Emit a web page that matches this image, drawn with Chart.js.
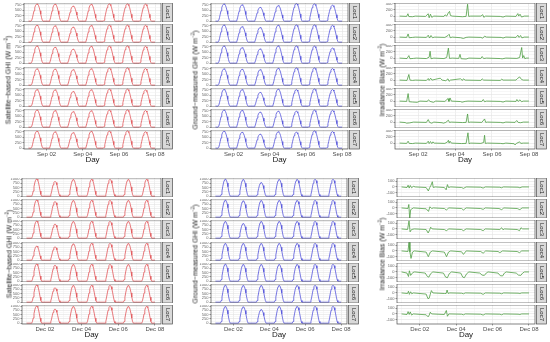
<!DOCTYPE html>
<html>
<head>
<meta charset="utf-8">
<script src="https://cdn.jsdelivr.net/npm/chart.js@4.4.1/dist/chart.umd.min.js"></script>
<style>
body { margin: 0; background: #fff; width: 550px; height: 342px; position: relative; overflow: hidden; font-family: "Liberation Sans", Arial, sans-serif; }
canvas { position: absolute; }
.ttl { position: absolute; font-size: 8px; color: #1a1a1a; white-space: nowrap; transform: translate(-50%, -50%); line-height: 1; }
.rot { font-size: 7px; transform: translate(-50%, -50%) rotate(-90deg); }
sup { font-size: 4.5px; vertical-align: 3px; }
</style>
</head>
<body>
<script>
const locs = ['Loc1', 'Loc2', 'Loc3', 'Loc4', 'Loc5', 'Loc6', 'Loc7'];
const tickDays = [1, 3, 5, 7];
const sepLabels = ['Sep 02', 'Sep 04', 'Sep 06', 'Sep 08'];
const decLabels = ['Dec 02', 'Dec 04', 'Dec 06', 'Dec 08'];

// clear-day shape (hours from solar noon, share of the day's peak)
const sepHours = [-8, -7, -6, -5, -4, -3, -2, -1, 0, 1, 2, 3, 4, 5, 6, 7, 8];
const sepFrac  = [0, 0.05, 0.2, 0.4, 0.6, 0.78, 0.9, 0.97, 1, 0.97, 0.9, 0.78, 0.6, 0.4, 0.2, 0.05, 0];
const decHours = [-6.5, -5.5, -4.5, -3.5, -2.5, -1.5, -0.5, 0.5, 1.5, 2.5, 3.5, 4.5, 5.5, 6.5];
const decFrac  = [0, 0.1, 0.3, 0.55, 0.77, 0.92, 0.99, 0.99, 0.92, 0.77, 0.55, 0.3, 0.1, 0];

// daily peaks, one row per location
const satSep = [
  [800, 790, 700, 780, 800, 800, 790],
  [790, 760, 700, 770, 790, 790, 780],
  [800, 740, 650, 780, 790, 800, 780],
  [760, 750, 720, 760, 790, 800, 770],
  [770, 760, 680, 760, 790, 790, 750],
  [800, 770, 720, 760, 790, 800, 770],
  [790, 760, 720, 780, 790, 800, 760]
];
const gndSep = [
  [800, 760, 640, 720, 820, 800, 740],
  [800, 720, 680, 790, 800, 800, 780],
  [800, 720, 660, 800, 800, 790, 700],
  [760, 740, 720, 780, 800, 800, 770],
  [780, 770, 640, 790, 770, 800, 770],
  [800, 780, 700, 740, 740, 790, 780],
  [790, 740, 650, 760, 740, 800, 770]
];
const satDec = [
  [1000, 860, 980, 980, 980, 980, 980],
  [1000, 910, 980, 980, 980, 980, 980],
  [1000, 820, 980, 980, 980, 980, 980],
  [820, 780, 960, 980, 980, 980, 980],
  [1000, 930, 980, 980, 980, 980, 980],
  [1000, 840, 980, 980, 980, 980, 980],
  [1000, 820, 980, 980, 980, 980, 980]
];
const gndDec = [
  [1000, 980, 800, 980, 980, 980, 980],
  [1000, 960, 980, 980, 980, 980, 980],
  [980, 860, 980, 980, 980, 980, 980],
  [980, 980, 980, 980, 980, 980, 980],
  [1000, 980, 980, 980, 980, 980, 980],
  [1000, 980, 980, 980, 980, 980, 980],
  [980, 960, 800, 980, 980, 980, 980]
];

// bias traces as [day, W m-2] points
const biasSep = [
  [[0,0],[0.38,-10],[0.45,75],[0.5,-15],[0.7,-20],[0.85,0],[1.4,-10],[1.55,75],[1.6,-55],[1.67,60],[1.74,-40],[1.85,0],[2.4,-10],[2.46,40],[2.55,0],[2.64,110],[2.7,150],[2.75,20],[2.85,0],[3.4,-20],[3.6,-10],[3.68,380],[3.74,-10],[3.85,0],[4.4,0],[4.5,45],[4.56,-40],[4.65,0],[5.45,-10],[5.6,-30],[5.75,0],[6.3,-10],[6.4,80],[6.45,0],[6.52,60],[6.6,-30],[6.75,0],[7,0]],
  [[0,0],[0.38,-10],[0.46,100],[0.52,-20],[0.7,-10],[0.85,0],[1.45,-10],[1.55,60],[1.62,-30],[1.7,50],[1.78,-20],[1.9,0],[2.45,-10],[2.62,50],[2.68,90],[2.74,-20],[2.85,0],[3.3,-20],[3.45,-45],[3.6,-10],[3.75,0],[4.4,-10],[4.5,-35],[4.6,30],[4.7,0],[5.5,-10],[5.6,-30],[5.75,0],[6.3,-10],[6.4,60],[6.47,-10],[6.55,50],[6.62,-25],[6.75,0],[7,0]],
  [[0,0],[0.4,-15],[0.5,80],[0.56,-20],[0.75,-10],[0.9,0],[1.45,-15],[1.6,30],[1.65,220],[1.7,-20],[1.85,0],[2.4,-15],[2.55,20],[2.64,320],[2.7,-10],[2.85,0],[3.2,-10],[3.27,120],[3.33,-20],[3.6,-30],[3.75,0],[4.4,-10],[4.47,50],[4.55,-15],[4.7,0],[5.45,-15],[5.55,-25],[5.75,0],[6.35,-10],[6.5,20],[6.61,340],[6.66,0],[6.72,80],[6.78,-20],[6.85,0],[7,0]],
  [[0,0],[0.4,-10],[0.5,180],[0.56,0],[0.7,-10],[0.85,0],[1.45,-10],[1.55,50],[1.6,-10],[1.68,60],[1.75,0],[2.2,60],[2.3,0],[2.5,-20],[2.62,40],[2.68,-40],[2.75,0],[3.3,40],[3.4,-10],[3.45,40],[3.55,0],[4.4,-10],[4.47,40],[4.55,0],[5.45,-10],[5.53,30],[5.6,0],[6.3,0],[6.4,60],[6.5,100],[6.6,20],[6.7,0],[7,0]],
  [[0,0],[0.38,-10],[0.46,240],[0.52,-20],[0.7,-30],[0.95,-40],[1.1,0],[1.5,-10],[1.56,40],[1.65,-10],[1.83,-40],[1.95,0],[2.45,-10],[2.62,80],[2.67,-10],[2.73,100],[2.8,0],[3.3,-15],[3.38,-35],[3.55,-10],[3.7,0],[4.45,-10],[4.53,50],[4.6,-20],[4.7,0],[5.45,-10],[5.6,-30],[5.75,0],[6.3,-10],[6.35,50],[6.42,-10],[6.52,40],[6.6,-20],[6.7,0],[7,0]],
  [[0,0],[0.3,-15],[0.38,-35],[0.55,-25],[0.75,0],[1.45,-10],[1.55,80],[1.62,-10],[1.74,-35],[1.85,0],[2.3,-20],[2.37,-35],[2.5,-10],[2.64,60],[2.7,-10],[2.8,0],[3.4,-15],[3.6,-10],[3.68,260],[3.73,-10],[3.85,0],[4.45,-10],[4.6,100],[4.66,-10],[4.75,0],[5.45,-10],[5.6,-25],[5.75,0],[6.25,-10],[6.34,50],[6.42,-10],[6.55,-20],[6.7,0],[7,0]],
  [[0,0],[0.38,-10],[0.46,60],[0.52,-10],[0.7,-15],[0.85,0],[1.45,-10],[1.55,60],[1.6,-15],[1.67,50],[1.74,-15],[1.8,40],[1.87,0],[2.45,-10],[2.6,40],[2.64,90],[2.68,0],[2.73,60],[2.8,0],[3.35,-15],[3.6,-10],[3.7,330],[3.76,-20],[3.85,0],[4.4,-10],[4.55,20],[4.6,250],[4.64,-10],[4.75,0],[5.45,-10],[5.6,-20],[5.75,0],[6.2,-20],[6.25,-60],[6.32,-10],[6.5,40],[6.56,-10],[6.7,0],[7,0]]
];
const biasDec = [
  [[0,0],[0.3,-10],[0.36,30],[0.42,-20],[0.48,25],[0.55,-15],[0.65,10],[0.75,0],[1.35,-10],[1.47,-70],[1.55,-10],[1.62,30],[1.69,90],[1.74,-10],[1.85,0],[2.35,-10],[2.45,-50],[2.52,40],[2.58,-10],[2.7,0],[3.3,-10],[3.4,-25],[3.55,0],[4.35,-5],[4.48,-20],[4.6,0],[5.4,-5],[5.48,-15],[5.6,0],[6.4,-5],[6.5,-15],[6.62,0],[7,0]],
  [[0,0],[0.35,-10],[0.4,60],[0.45,-200],[0.5,-30],[0.65,0],[1.35,-15],[1.48,-60],[1.56,20],[1.65,-10],[1.75,0],[2.35,-10],[2.46,-35],[2.6,0],[3.3,-10],[3.4,-35],[3.55,0],[4.35,-10],[4.48,-25],[4.6,0],[5.35,-10],[5.5,-30],[5.62,0],[6.35,-10],[6.5,-30],[6.62,0],[7,0]],
  [[0,0],[0.33,-10],[0.41,140],[0.47,-50],[0.55,-10],[0.7,0],[1.35,-10],[1.46,-70],[1.54,-20],[1.6,30],[1.68,0],[2.35,-10],[2.46,-30],[2.6,0],[3.3,-10],[3.4,-30],[3.55,0],[4.35,-10],[4.48,-30],[4.6,0],[5.4,-10],[5.5,20],[5.57,-15],[5.65,0],[6.35,-10],[6.48,-30],[6.56,20],[6.65,0],[7,0]],
  [[0,0],[0.35,-10],[0.41,150],[0.46,-20],[0.52,-130],[0.6,-20],[0.7,0],[1.35,-20],[1.47,-100],[1.58,-20],[1.7,0],[2.35,-20],[2.47,-100],[2.58,-20],[2.7,0],[3.3,-15],[3.4,-60],[3.55,0],[4.35,-10],[4.48,-40],[4.62,0],[5.3,-10],[5.4,-30],[5.55,0],[6.35,-10],[6.48,-30],[6.6,0],[7,0]],
  [[0,0],[0.3,-20],[0.38,-80],[0.43,20],[0.5,-60],[0.62,-10],[0.72,0],[1.3,-20],[1.42,-80],[1.5,-90],[1.6,-30],[1.72,0],[2.3,-20],[2.42,-90],[2.52,-100],[2.62,-30],[2.75,0],[3.25,-20],[3.36,-90],[3.45,-100],[3.58,-30],[3.7,0],[4.3,-20],[4.42,-55],[4.55,-60],[4.65,-20],[4.75,0],[5.3,-20],[5.42,-65],[5.55,-70],[5.65,-20],[5.75,0],[6.3,-20],[6.42,-55],[6.55,-60],[6.65,-20],[6.75,0],[7,0]],
  [[0,0],[0.33,-10],[0.38,30],[0.43,-25],[0.5,20],[0.56,-15],[0.65,0],[1.35,-20],[1.45,-100],[1.52,-90],[1.58,-20],[1.64,40],[1.72,0],[2.35,-10],[2.45,-10],[2.5,50],[2.56,-10],[2.65,0],[3.3,-5],[3.4,-15],[3.5,0],[4.35,-5],[4.48,-25],[4.6,0],[5.4,-5],[5.5,-15],[5.6,0],[6.4,-5],[6.5,-10],[6.6,0],[7,0]],
  [[0,0],[0.3,-10],[0.36,40],[0.42,-10],[0.48,35],[0.55,-20],[0.65,0],[1.35,-15],[1.46,-50],[1.52,-20],[1.58,30],[1.65,0],[2.35,-10],[2.46,60],[2.52,-40],[2.6,0],[3.3,-5],[3.4,-15],[3.5,0],[4.35,-5],[4.48,-20],[4.6,0],[5.4,-5],[5.5,-15],[5.6,0],[6.4,-5],[6.5,-10],[6.6,0],[7,0]]
];

function bells(peaks, noon, hours, frac) {
  const pts = [{x: 0, y: 0}];
  peaks.forEach((p, k) => {
    hours.forEach((h, i) => pts.push({x: k + noon + h / 24, y: frac[i] * p}));
  });
  pts.push({x: 7, y: 0});
  return pts;
}
const asPts = arr => arr.map(p => ({x: p[0], y: p[1]}));

const ghiTitleSat = 'Satellite−based GHI (W m<sup>−2</sup>)';
const ghiTitleGnd = 'Ground−measured GHI (W m<sup>−2</sup>)';
const biasTitle = 'Irradiance Bias (W m<sup>−2</sup>)';

const panels = [
  {top: 3, left: 24, right: 161, series: satSep.map(p => bells(p, 0.47, sepHours, sepFrac)), color: '#e2575b',
   y: [-40, 840], major: [0, 250, 500, 750], minor: [125, 375, 625], labels: sepLabels, title: ghiTitleSat, tx: 8, ty: 80},
  {top: 3, left: 211, right: 348, series: gndSep.map(p => bells(p, 0.47, sepHours, sepFrac)), color: '#5454dc',
   y: [-40, 840], major: [0, 250, 500, 750], minor: [125, 375, 625], labels: sepLabels, title: ghiTitleGnd, tx: 195, ty: 80},
  {top: 3, left: 395, right: 535, series: biasSep.map(asPts), color: '#4f9e44',
   y: [-190, 420], major: [0, 200, 400], minor: [-100, 100, 300], labels: sepLabels, title: biasTitle, tx: 382, ty: 80},
  {top: 178, left: 22, right: 161, series: satDec.map(p => bells(p, 0.55, decHours, decFrac)), color: '#e2575b',
   y: [-50, 1060], major: [0, 250, 500, 750, 1000], minor: [125, 375, 625, 875], labels: decLabels, title: ghiTitleSat, tx: 9, ty: 254},
  {top: 178, left: 211, right: 347, series: gndDec.map(p => bells(p, 0.55, decHours, decFrac)), color: '#5454dc',
   y: [-50, 1060], major: [0, 250, 500, 750, 1000], minor: [125, 375, 625, 875], labels: decLabels, title: ghiTitleGnd, tx: 195, ty: 254},
  {top: 178, left: 397, right: 535, series: biasDec.map(asPts), color: '#4f9e44',
   y: [-175, 155], major: [-100, 0, 100], minor: [-50, 50], labels: decLabels, title: biasTitle, tx: 382, ty: 254}
];

const stripPlugin = {
  id: 'strip',
  afterDraw(chart, args, opts) {
    const ca = chart.chartArea, ctx = chart.ctx;
    ctx.save();
    ctx.strokeStyle = '#4d4d4d';
    ctx.lineWidth = 0.7;
    ctx.strokeRect(ca.left, ca.top, ca.right - ca.left, ca.bottom - ca.top);
    const sx = ca.right + 1.5, sw = 10;
    ctx.fillStyle = '#d9d9d9';
    ctx.fillRect(sx, ca.top, sw, ca.bottom - ca.top);
    ctx.strokeRect(sx, ca.top, sw, ca.bottom - ca.top);
    ctx.translate(sx + sw / 2, (ca.top + ca.bottom) / 2);
    ctx.rotate(Math.PI / 2);
    ctx.fillStyle = '#1a1a1a';
    ctx.font = '6px "Liberation Sans", Arial, sans-serif';
    ctx.textAlign = 'center';
    ctx.textBaseline = 'middle';
    ctx.fillText(opts.label, 0, 0);
    ctx.restore();
  }
};

const YW = 14, FH = 19, PITCH = 21.2, XH = 10;

function addText(html, x, y, cls) {
  const d = document.createElement('div');
  d.className = 'ttl ' + (cls || '');
  d.innerHTML = html;
  d.style.left = x + 'px';
  d.style.top = y + 'px';
  document.body.appendChild(d);
}

panels.forEach(pn => {
  const xTicks = [0, 1, 2, 3, 4, 5, 6, 7];
  const yTicks = pn.major.concat(pn.minor).sort((a, b) => a - b);
  pn.series.forEach((pts, i) => {
    const last = i === locs.length - 1;
    const cv = document.createElement('canvas');
    const w = YW + (pn.right - pn.left) + 12;
    const h = FH + (last ? XH : 0);
    cv.width = w; cv.height = h;
    cv.style.left = (pn.left - YW) + 'px';
    cv.style.top = (pn.top + Math.round(i * PITCH)) + 'px';
    document.body.appendChild(cv);
    new Chart(cv, {
      type: 'line',
      data: {datasets: [{data: pts, borderColor: pn.color, borderWidth: 0.8, pointRadius: 0, tension: 0, fill: false}]},
      options: {
        responsive: false,
        animation: false,
        events: [],
        layout: {padding: {left: 0, right: 12, top: 0, bottom: 0}},
        plugins: {legend: {display: false}, tooltip: {enabled: false}, strip: {label: locs[i]}},
        scales: {
          x: {
            type: 'linear', min: -0.25, max: 7.33,
            afterBuildTicks: s => { s.ticks = xTicks.map(v => ({value: v})); },
            afterFit: s => { s.height = last ? XH : 0; s.paddingLeft = 0; s.paddingRight = 0; },
            border: {display: false},
            grid: {
              color: c => tickDays.includes(c.tick && c.tick.value) ? '#e3e3e3' : '#f2f2f2',
              lineWidth: 0.6,
              drawTicks: last,
              tickLength: 1.5,
              tickColor: c => tickDays.includes(c.tick && c.tick.value) ? '#555' : 'rgba(0,0,0,0)'
            },
            ticks: {
              display: last, autoSkip: false, maxRotation: 0, minRotation: 0, padding: 0,
              font: {size: 6}, color: '#4d4d4d',
              callback: v => { const k = tickDays.indexOf(v); return k < 0 ? '' : pn.labels[k]; }
            }
          },
          y: {
            min: pn.y[0], max: pn.y[1],
            afterBuildTicks: s => { s.ticks = yTicks.map(v => ({value: v})); },
            afterFit: s => { s.width = YW; s.paddingTop = 0; s.paddingBottom = 0; },
            border: {display: false},
            grid: {
              color: c => pn.major.includes(c.tick && c.tick.value) ? '#e3e3e3' : '#f2f2f2',
              lineWidth: 0.6,
              tickLength: 1.5,
              tickColor: c => pn.major.includes(c.tick && c.tick.value) ? '#555' : 'rgba(0,0,0,0)'
            },
            ticks: {
              autoSkip: false, padding: 1, font: {size: 4}, color: '#666',
              callback: v => pn.major.includes(v) ? String(v) : ''
            }
          }
        }
      },
      plugins: [stripPlugin]
    });
  });
  const bottom = pn.top + Math.round(6 * PITCH) + FH;
  addText('Day', (pn.left + pn.right) / 2, bottom + 11);
  addText(pn.title, pn.tx, pn.ty, 'rot');
});
</script>
</body>
</html>
